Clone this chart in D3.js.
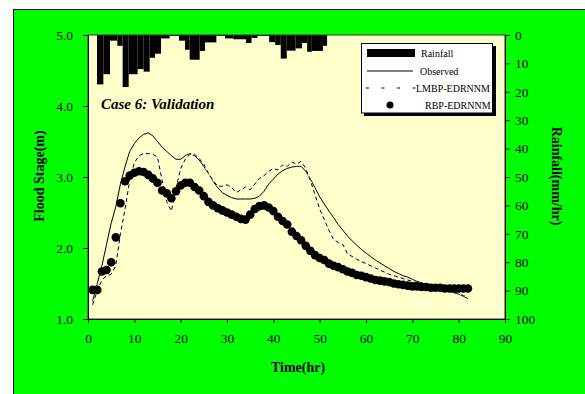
<!DOCTYPE html>
<html><head><meta charset="utf-8">
<script src="https://cdn.jsdelivr.net/npm/d3@7"></script>
<style>html,body{margin:0;padding:0;background:#fff;} svg{display:block;}</style>
</head><body><svg id="c" width="585" height="394"></svg>
<script>
// ---- data ----
const time = d3.range(1, 83); // hours 1..82
const observed = [1.25,1.50,1.75,2.05,2.35,2.58,2.90,3.15,3.36,3.47,3.55,3.60,3.62,3.58,3.50,3.42,3.36,3.30,3.25,3.25,
  3.30,3.33,3.30,3.24,3.15,3.05,2.94,2.85,2.78,2.74,2.71,2.69,2.69,2.69,2.69,2.70,2.73,2.80,2.90,2.97,
  3.04,3.09,3.12,3.14,3.15,3.15,3.08,2.97,2.85,2.72,2.62,2.52,2.43,2.33,2.25,2.17,2.10,2.04,1.98,1.93,
  1.88,1.83,1.79,1.75,1.71,1.67,1.64,1.61,1.59,1.56,1.53,1.51,1.49,1.47,1.45,1.43,1.41,1.39,1.37,1.35,1.32,1.29];
const lmbp = [1.20,1.40,1.55,1.61,1.63,1.75,2.20,2.55,2.95,3.20,3.30,3.33,3.33,3.32,3.28,2.95,2.65,2.52,2.85,3.12,
  3.25,3.32,3.32,3.26,3.18,3.05,2.95,2.87,2.87,2.89,2.85,2.78,2.82,2.86,2.82,2.90,2.98,3.02,3.08,3.12,
  3.10,3.17,3.15,3.21,3.18,3.22,3.12,2.95,2.75,2.55,2.40,2.25,2.12,2.08,2.05,1.92,1.88,1.84,1.81,1.78,
  1.75,1.72,1.69,1.66,1.63,1.61,1.59,1.57,1.55,1.53,1.51,1.49,1.48,1.46,1.44,1.43,1.41,1.40,1.38,1.36,1.33,1.31];
const rbp = [1.41,1.41,1.67,1.69,1.80,2.15,2.63,2.94,3.02,3.06,3.08,3.07,3.03,2.98,2.92,2.81,2.77,2.70,2.80,2.88,
  2.92,2.92,2.86,2.81,2.73,2.65,2.60,2.56,2.53,2.50,2.47,2.44,2.41,2.40,2.47,2.55,2.59,2.60,2.57,2.52,
  2.44,2.38,2.33,2.23,2.17,2.11,2.03,1.96,1.90,1.86,1.83,1.78,1.75,1.73,1.70,1.67,1.65,1.62,1.61,1.59,
  1.57,1.55,1.54,1.53,1.52,1.50,1.49,1.48,1.47,1.46,1.46,1.45,1.45,1.44,1.44,1.44,1.43,1.43,1.43,1.43,1.43,1.43];
// rainfall intervals (hours) and intensities (mm/hr)
const rainEdges = [1.94,3.31,4.75,6.33,7.48,8.78,10.72,12.01,13.31,14.46,15.76,17.63,19.64,20.94,21.94,24.1,25.25,27.7,
  29.57,31.37,34.1,35.3,36.6,39.1,40.4,41.6,42.9,44.8,46.2,47.3,48.3,50.7,51.6];
const rainfall = [17.4,13.8,2.0,3.8,18.3,13.8,12.0,12.9,8.0,6.6,1.2,0.3,2.0,5.2,8.7,5.6,2.6,0.3,1.2,1.5,2.8,1.0,0.3,
  2.5,3.5,8.3,5.5,4.7,2.8,5.9,5.6,3.8];
const xTicks = [0,10,20,30,40,50,60,70,80,90];
const stageTicks = [1,2,3,4,5];
const rainTicks = [0,10,20,30,40,50,60,70,80,90,100];
const legendLabels = ["Rainfall","Observed","LMBP-EDRNNM","RBP-EDRNNM"];

// ---- drawing ----
const FONT = "'Liberation Serif','Times New Roman',serif";
const svg = d3.select("#c");
const L = 88, R = 505, T = 35, B = 319;
const x = d3.scaleLinear().domain([0, 90]).range([L, R]);
const y = d3.scaleLinear().domain([1, 5]).range([B, T]);
const y2 = d3.scaleLinear().domain([0, 100]).range([T, B]);

svg.append("rect").attr("width", 585).attr("height", 394).attr("fill", "#fff");
svg.append("rect").attr("x", 13.5).attr("y", 9.5).attr("width", 600).attr("height", 400)
  .attr("fill", "#00FF00").attr("stroke", "#000").attr("stroke-width", 1);
svg.append("rect").attr("x", L).attr("y", T).attr("width", R - L).attr("height", B - T)
  .attr("fill", "#FFFFCC");

svg.append("clipPath").attr("id", "clip").append("rect")
  .attr("x", L).attr("y", T).attr("width", R - L).attr("height", B - T);
const plot = svg.append("g").attr("clip-path", "url(#clip)");

// rainfall bars (hanging from top)
plot.append("g").selectAll("rect").data(rainfall).join("rect")
  .attr("x", (d, i) => x(rainEdges[i]))
  .attr("width", (d, i) => x(rainEdges[i + 1]) - x(rainEdges[i]))
  .attr("y", y2(0))
  .attr("height", d => y2(d) - y2(0))
  .attr("fill", "#000");

const line = d3.line().x((d, i) => x(time[i])).y(d => y(d));
// observed
plot.append("path").datum(observed).attr("d", line).attr("fill", "none")
  .attr("stroke", "#000").attr("stroke-width", 1);
// LMBP dashed (white gaps)
plot.append("path").datum(lmbp).attr("d", line).attr("fill", "none")
  .attr("stroke", "#fff").attr("stroke-width", 1);
plot.append("path").datum(lmbp).attr("d", line).attr("fill", "none")
  .attr("stroke", "#000").attr("stroke-width", 1).attr("stroke-dasharray", "4,3");
// RBP dots
plot.append("g").selectAll("circle").data(rbp).join("circle")
  .attr("cx", (d, i) => x(time[i])).attr("cy", d => y(d)).attr("r", 4.3).attr("fill", "#000");

// plot border
svg.append("rect").attr("x", L).attr("y", T).attr("width", R - L).attr("height", B - T)
  .attr("fill", "none").attr("stroke", "#333").attr("stroke-width", 1);

// axes
function styleAxis(g) {
  g.selectAll("path").attr("stroke", "#000");
  g.selectAll("line").attr("stroke", "#000");
  g.selectAll("text").attr("font-family", FONT).attr("font-size", 13.5).attr("fill", "#000");
}
svg.append("g").attr("transform", `translate(0,${B})`)
  .call(d3.axisBottom(x).tickValues(xTicks).tickSize(4).tickPadding(10).tickSizeOuter(0))
  .call(styleAxis);
svg.append("g").attr("transform", `translate(${L},0)`)
  .call(d3.axisLeft(y).tickValues(stageTicks).tickFormat(d3.format(".1f")).tickSize(5).tickPadding(10).tickSizeOuter(0))
  .call(styleAxis);
svg.append("g").attr("transform", `translate(${R},0)`)
  .call(d3.axisRight(y2).tickValues(rainTicks).tickSize(5).tickPadding(5).tickSizeOuter(0))
  .call(styleAxis);

// titles
svg.append("text").attr("x", 298).attr("y", 372).attr("text-anchor", "middle")
  .attr("font-family", FONT).attr("font-weight", "bold").attr("font-size", 14).text("Time(hr)");
svg.append("text").attr("transform", "translate(44,176) rotate(-90)").attr("text-anchor", "middle")
  .attr("font-family", FONT).attr("font-weight", "bold").attr("font-size", 14).text("Flood Stage(m)");
svg.append("text").attr("transform", "translate(552,176) rotate(90)").attr("text-anchor", "middle")
  .attr("font-family", FONT).attr("font-weight", "bold").attr("font-size", 14).text("Rainfall(mm/hr)");
svg.append("text").attr("x", 101).attr("y", 109)
  .attr("font-family", FONT).attr("font-weight", "bold").attr("font-style", "italic").attr("font-size", 15)
  .text("Case 6: Validation");

// legend
const lg = svg.append("g");
lg.append("rect").attr("x", 364).attr("y", 46).attr("width", 132).attr("height", 70).attr("fill", "#000");
lg.append("rect").attr("x", 361.5).attr("y", 43.5).attr("width", 131).attr("height", 69.5)
  .attr("fill", "#fff").attr("stroke", "#000").attr("stroke-width", 1);
const ly = [53, 71, 88, 105];
const lx = [421, 420, 416, 425];
lg.append("rect").attr("x", 367).attr("y", ly[0] - 4).attr("width", 48).attr("height", 8).attr("fill", "#000");
lg.append("line").attr("x1", 367).attr("x2", 413).attr("y1", ly[1]).attr("y2", ly[1]).attr("stroke", "#000");
lg.append("line").attr("x1", 366).attr("x2", 416).attr("y1", ly[2]).attr("y2", ly[2]).attr("stroke", "#000")
  .attr("stroke-dasharray", "3,12.5");
lg.append("circle").attr("cx", 390).attr("cy", ly[3]).attr("r", 3.5).attr("fill", "#000");
lg.selectAll("text.lt").data(legendLabels).join("text").attr("class", "lt")
  .attr("x", (d, i) => lx[i]).attr("y", (d, i) => ly[i] + 3.5)
  .attr("font-family", FONT).attr("font-size", 10).text(d => d);
</script></body></html>
